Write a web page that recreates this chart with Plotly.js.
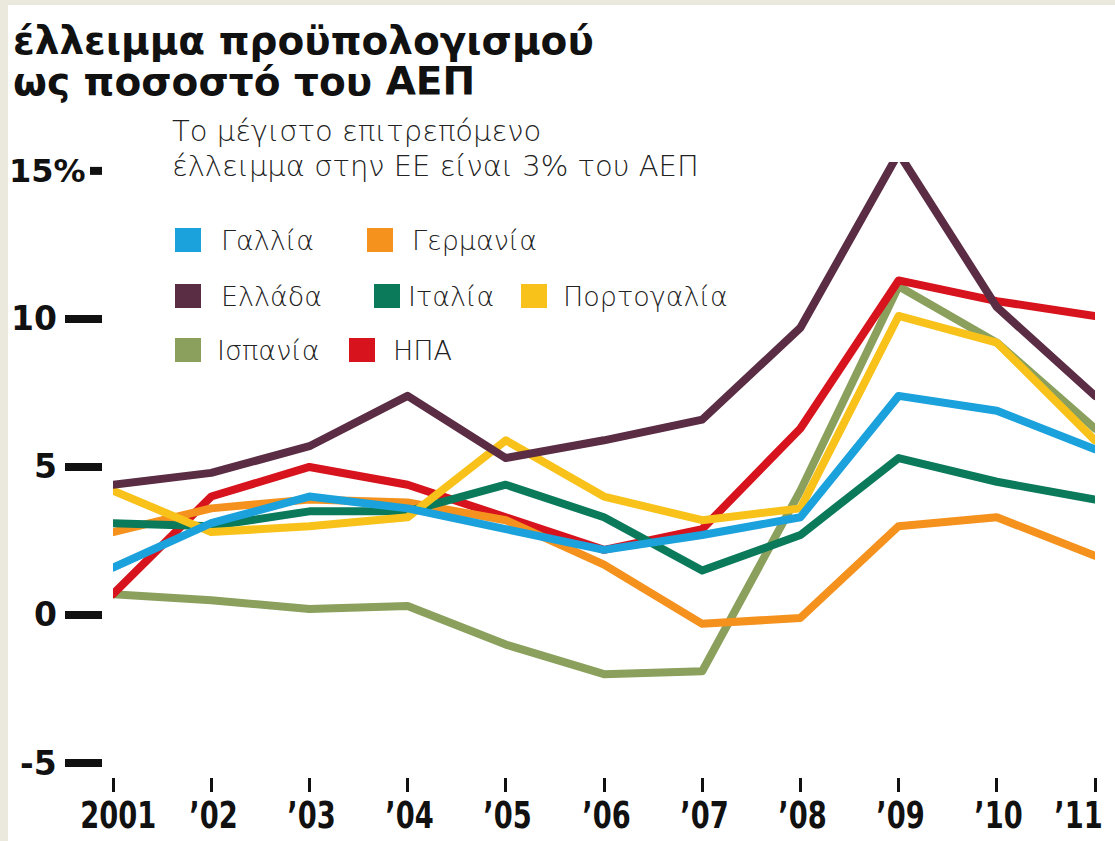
<!DOCTYPE html>
<html>
<head>
<meta charset="utf-8">
<script src="https://cdn.plot.ly/plotly-3.0.1.min.js"></script>
<style>
  html, body { margin: 0; padding: 0; background: #ebe9dd; width: 1115px; height: 841px; overflow: hidden; }
  #chart { position: absolute; left: 8px; top: 5px; width: 1107px; height: 836px; background: #fff; }
  path.js-line { stroke-linejoin: round !important; stroke-linecap: round !important; }
</style>
</head>
<body>
<div id="chart"></div>
<script>
// ---- data ----
const years = [2001, 2002, 2003, 2004, 2005, 2006, 2007, 2008, 2009, 2010, 2011];
const yearLabels = ["2001", "’02", "’03", "’04", "’05", "’06", "’07", "’08", "’09", "’10", "’11"];

const spain    = [0.7, 0.5, 0.2, 0.3, -1.0, -2.0, -1.9, 4.2, 11.1, 9.2, 6.3];
const usa      = [0.7, 4.0, 5.0, 4.4, 3.3, 2.2, 2.9, 6.3, 11.3, 10.6, 10.1];
const germany  = [2.8, 3.6, 3.9, 3.8, 3.2, 1.7, -0.3, -0.1, 3.0, 3.3, 2.0];
const italy    = [3.1, 3.0, 3.5, 3.5, 4.4, 3.3, 1.5, 2.7, 5.3, 4.5, 3.9];
const portugal = [4.2, 2.8, 3.0, 3.3, 5.9, 4.0, 3.2, 3.6, 10.1, 9.2, 5.9];
const france   = [1.6, 3.1, 4.0, 3.6, 2.9, 2.2, 2.7, 3.3, 7.4, 6.9, 5.6];
const greece   = [4.4, 4.8, 5.7, 7.4, 5.3, 5.9, 6.6, 9.7, 15.6, 10.4, 7.4];

const seriesNames = ["Ισπανία", "ΗΠΑ", "Γερμανία", "Ιταλία", "Πορτογαλία", "Γαλλία", "Ελλάδα"];
const seriesValues = [spain, usa, germany, italy, portugal, france, greece];

const yTickVals = [-5, 0, 5, 10, 15];
const yTickText = ["-5", "0", "5", "10", "15%"];

const titleLines = ["έλλειμμα προϋπολογισμού", "ως ποσοστό του ΑΕΠ"];
const noteLines = ["Το μέγιστο επιτρεπόμενο", "έλλειμμα στην ΕΕ είναι 3% του ΑΕΠ"];

// ---- styles ----
const colors = {
  "Γαλλία": "#1ba1db",
  "Γερμανία": "#f5921e",
  "Ελλάδα": "#5a2d44",
  "Ιταλία": "#0b7a5a",
  "Πορτογαλία": "#f8c21a",
  "Ισπανία": "#8aa05c",
  "ΗΠΑ": "#d7141d"
};

// legend layout: [name, square left px, text left px, row center px] (image px)
const legendLayout = [
  ["Γαλλία", 175, 219, 240],
  ["Γερμανία", 367, 410, 240],
  ["Ελλάδα", 175, 219, 296],
  ["Ιταλία", 374, 406, 296],
  ["Πορτογαλία", 521, 561, 296],
  ["Ισπανία", 175, 215, 350],
  ["ΗΠΑ", 349, 391, 350]
];

const W = 1107, H = 836, OX = 8, OY = 5;
const mL = 105, mR = 20, mT = 157, mB = 64;
const pw = W - mL - mR, ph = H - mT - mB;
const px2x = (ix) => ((ix - OX) - mL) / pw;
const px2y = (iy) => (H - mB - (iy - OY)) / ph;

const traces = seriesNames.map((n, i) => ({
  type: "scatter",
  mode: "lines",
  x: years,
  y: seriesValues[i],
  name: n,
  line: { color: colors[n], width: 8 },
  cliponaxis: false,
  hoverinfo: "skip",
  showlegend: false
}));

const shapes = [];
const annotations = [];

// y tick bars and labels
yTickVals.forEach((v, i) => {
  const isTop = i === yTickVals.length - 1;
  shapes.push({
    type: "line", xref: "paper", yref: "y",
    x0: isTop ? px2x(90) : px2x(65), x1: px2x(102),
    y0: v, y1: v,
    line: { color: "#111", width: 8 }
  });
  annotations.push({
    xref: "paper", yref: "y",
    x: isTop ? px2x(88) : px2x(59), y: v,
    xanchor: "right", yanchor: "middle",
    text: yTickText[i], showarrow: false,
    font: { family: "DejaVu Sans", size: isTop ? 32 : 33, color: "#111", weight: "bold" }
  });
});

// x tick labels (condensed bold)
years.forEach((yr, i) => {
  annotations.push({
    xref: "x", yref: "paper",
    x: yr, y: px2y(839),
    xanchor: "center", yanchor: "bottom",
    xshift: i === years.length - 1 ? -17 : (i === 0 ? 5 : 2),
    text: yearLabels[i], showarrow: false,
    font: { family: "DejaVu Sans Condensed, DejaVu Sans", size: 37, color: "#111", weight: "bold" }
  });
});

// title
const titleY = [41, 81];
titleLines.forEach((t, i) => {
  annotations.push({
    xref: "paper", yref: "paper",
    x: px2x(11), y: px2y(titleY[i]),
    xanchor: "left", yanchor: "middle",
    text: t, showarrow: false,
    font: { family: "DejaVu Sans", size: 39, color: "#111", weight: "bold" }
  });
});

// note
const noteY = [131, 166];
noteLines.forEach((t, i) => {
  annotations.push({
    xref: "paper", yref: "paper",
    x: px2x(170), y: px2y(noteY[i]),
    xanchor: "left", yanchor: "middle",
    text: t, showarrow: false,
    font: { family: "DejaVu Sans", size: 29, color: "#222", weight: 300 }
  });
});

// legend
legendLayout.forEach(([n, sq, tx, cy]) => {
  shapes.push({
    type: "rect", xref: "paper", yref: "paper",
    x0: px2x(sq), x1: px2x(sq + 26),
    y0: px2y(cy - 12), y1: px2y(cy + 12),
    fillcolor: colors[n], line: { width: 0 }
  });
  annotations.push({
    xref: "paper", yref: "paper",
    x: px2x(tx), y: px2y(cy),
    xanchor: "left", yanchor: "middle",
    text: n, showarrow: false,
    font: { family: "DejaVu Sans", size: 27, color: "#222", weight: 300 }
  });
});

const layout = {
  width: W, height: H,
  margin: { l: mL, r: mR, t: mT, b: mB, pad: 0 },
  paper_bgcolor: "#ffffff",
  plot_bgcolor: "#ffffff",
  showlegend: false,
  xaxis: {
    range: [2001, 2011],
    tickvals: years,
    showticklabels: false,
    ticks: "outside", ticklen: 14, tickwidth: 3, tickcolor: "#111",
    showgrid: false, zeroline: false, showline: false,
    fixedrange: true
  },
  yaxis: {
    range: [-5.473, 15.3],
    showticklabels: false, ticks: "",
    showgrid: false, zeroline: false, showline: false,
    fixedrange: true
  },
  shapes: shapes,
  annotations: annotations
};

Plotly.newPlot("chart", traces, layout, { displayModeBar: false, staticPlot: true }).then(() => {
  // squeeze the year labels horizontally to mimic a condensed face
  document.querySelectorAll("#chart .annotation-text").forEach((el) => {
    if (yearLabels.indexOf(el.textContent) >= 0) {
      const len = el.getComputedTextLength();
      el.setAttribute("textLength", (len * 0.82).toFixed(1));
      el.setAttribute("lengthAdjust", "spacingAndGlyphs");
    }
  });
});
</script>
</body>
</html>
